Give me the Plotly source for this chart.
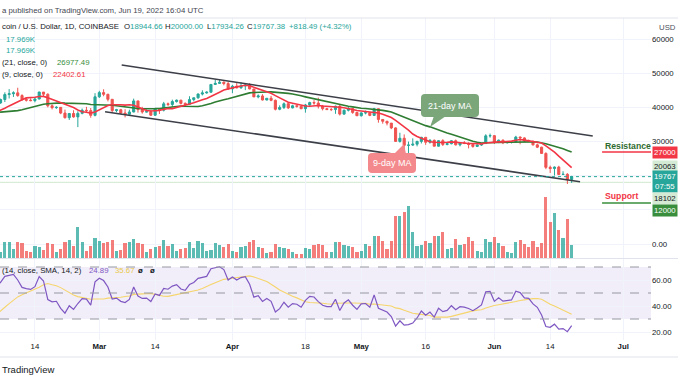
import pandas as pd
import plotly.graph_objects as go

W, H = 678, 381
FONT = "Liberation Sans, Arial, sans-serif"

# ---------------- data ----------------
# closes before the visible window (Jan 1 - Feb 4, 2022), only feed the indicators
warm_close = [47690, 47300, 46440, 45830, 43430, 43080, 41550, 41730, 41860, 41820,
              42740, 43920, 42590, 43080, 43080, 43100, 42220, 42370, 41680, 40690,
              36460, 35070, 36280, 36680, 36960, 36830, 37170, 37720, 38170, 37920,
              38480, 38740, 36950, 37150, 41570]

# daily candles Feb 5 - Jun 19, 2022
opens = [41570, 41400, 42400, 43850, 44100, 44350, 43550, 42400, 42200, 42070,
         42550, 44580, 43950, 40550, 40000, 40100, 38420, 37070, 38290, 37300,
         38330, 39250, 39140, 37750,
         43190, 44420, 43920, 42460, 39150, 39400, 38420, 38060, 38740, 41980,
         39440, 38730, 38810, 37790, 39670, 39280, 41140, 40950, 41800, 42200,
         41260, 41000, 42370, 42900, 44000, 44330, 44540, 46820, 47130, 47460, 47070,
         45530, 46300, 45820, 46400, 46620, 45500, 43170, 43440, 42250, 42760,
         42160, 39530, 40080, 41150, 39940, 40550, 40400, 39700, 40800, 41500,
         41370, 40480, 39710, 39450, 39450, 40430, 38110, 39240, 39740, 38600,
         37630, 38470, 38520, 37730, 39690, 36550, 36010, 35470, 34060, 30100,
         31020, 28940, 29030, 29280, 30100, 31300, 29860, 30430, 28700, 30310,
         29200, 29430, 30290, 29100, 29650, 29540, 29200, 28630, 29030, 29470, 31730,
         31800, 29800, 30460, 29700, 29860, 29910, 31370, 31130, 30200, 30110,
         29090, 28400, 26580, 22490, 22140, 22580, 20380, 20450, 18944.66]
highs = [41950, 42650, 44500, 45450, 44800, 45850, 43950, 43000, 42750, 42850,
         44700, 44580, 44200, 40970, 40450, 40150, 39450, 38450, 39250, 38950,
         39750, 40250, 39900, 44250,
         44950, 45400, 44100, 42550, 39650, 39650, 39550, 39400, 42650, 42050,
         40250, 39500, 39300, 39950, 39900, 41700, 41500, 42350, 42400, 42300,
         41550, 43350, 43000, 44200, 45100, 44800, 46950, 48200, 48100, 47700, 47600,
         46700, 47200, 47450, 46900, 47200, 45500, 43900, 43950, 42800, 43450,
         42400, 40700, 41550, 41500, 40850, 40700, 40600, 41100, 41750, 42200,
         42950, 40800, 39950, 39900, 40600, 40800, 39450, 40350, 39900, 38800,
         38650, 39150, 38650, 39950, 39800, 36650, 36150, 35500, 34250, 32650,
         32150, 30050, 31000, 30300, 31450, 31300, 30750, 30650, 30500, 30750,
         29600, 30450, 30650, 29800, 30200, 29850, 29350, 29250, 29550, 32200,
         32400, 31950, 30650, 30700, 29950, 30150, 31750, 31550, 31300, 30650,
         30350, 29450, 28550, 26900, 23000, 22750, 22950, 21350, 20800, 20000.00]
lows = [40950, 41150, 41650, 42700, 43150, 43200, 42000, 41800, 41900, 41580,
        42450, 43350, 40100, 39500, 39650, 38100, 36800, 36400, 37050, 34300,
        38050, 38600, 37050, 37450,
        42850, 43350, 41850, 38650, 38650, 38100, 37150, 37900, 38650, 38550,
        38250, 38650, 37600, 37600, 38150, 38900, 40500, 40200, 41500, 40950,
        40500, 40900, 41850, 42600, 43600, 44100, 44450, 46650, 46950, 46550, 45200,
        44250, 45650, 45550, 45150, 45400, 43100, 42750, 42150, 42150, 41900,
        39200, 39250, 39600, 39600, 39800, 40000, 39550, 38550, 40550, 40850,
        39750, 39200, 39300, 39000, 38200, 37700, 37900, 38900, 38200, 37600,
        37400, 38050, 37500, 37600, 35600, 35300, 34800, 33700, 30050, 29750,
        27800, 26600, 28750, 28650, 29500, 29100, 29450, 28700, 28650, 28750,
        28950, 29250, 28900, 28650, 29300, 28050, 28250, 28450, 28800, 29450,
        31200, 29350, 29600, 29300, 29500, 29500, 29900, 29250, 29900, 29950,
        28900, 28150, 26600, 21950, 20850, 20100, 20250, 20250, 17600, 17934.26]
closes = [41400, 42400, 43850, 44100, 44350, 43550, 42400, 42200, 42070, 42550,
          44580, 43950, 40550, 40000, 40100, 38420, 37070, 38290, 37300, 38330,
          39250, 39140, 37750, 43190,
          44420, 43920, 42460, 39150, 39400, 38420, 38060, 38740, 41980, 39440,
          38730, 38810, 37790, 39670, 39280, 41140, 40950, 41800, 42200, 41260,
          41000, 42370, 42900, 44000, 44330, 44540, 46820, 47130, 47460, 47070, 45530,
          46300, 45820, 46400, 46620, 45500, 43170, 43440, 42250, 42760, 42160,
          39530, 40080, 41150, 39940, 40550, 40400, 39700, 40800, 41500, 41370,
          40480, 39710, 39450, 39450, 40430, 38110, 39240, 39740, 38600, 37630,
          38470, 38520, 37730, 39690, 36550, 36010, 35470, 34060, 30100, 31020,
          28940, 29030, 29280, 30100, 31300, 29860, 30430, 28700, 30310, 29200,
          29430, 30290, 29100, 29650, 29540, 29200, 28630, 29030, 29470, 31730,
          31800, 29800, 30460, 29700, 29860, 29910, 31370, 31130, 30200, 30110, 29090,
          28400, 26580, 22490, 22140, 22580, 20380, 20450, 18950, 19767.38]
# volume, thousand BTC
volumes = [11.0, 7.9, 21.7, 21.7, 12.4, 21.7, 20.7, 9.7, 7.9, 16.1,
           14.8, 11.0, 20.3, 19.3, 7.9, 12.4, 22.5, 24.8, 17.0, 43.2,
           22.5, 10.1, 16.1, 27.2,
           23.9, 20.3, 21.7, 25.3, 10.1, 11.0, 20.7, 22.5, 26.2, 20.7,
           19.3, 7.9, 12.4, 15.6, 16.1, 24.8, 17.0, 19.3, 10.1, 12.4,
           13.4, 21.7, 13.4, 23.0, 20.7, 9.2, 11.5, 20.3, 17.9, 14.8, 19.3,
           10.1, 7.9, 14.8, 16.1, 22.5, 25.3, 14.8, 13.4, 6.9, 7.9,
           19.3, 14.8, 13.4, 12.4, 7.9, 5.5, 5.5, 13.4, 12.4, 17.9,
           19.3, 17.9, 7.9, 7.9, 21.7, 22.5, 17.9, 17.0, 14.8, 7.9,
           10.1, 19.3, 16.6, 29.9, 29.9, 23.5, 12.4, 23.9, 57.5, 57.5,
           63.1, 72.2, 36.3, 17.0, 17.9, 23.9, 20.7, 29.9, 29.9, 36.3,
           12.4, 13.4, 26.2, 18.4, 19.3, 28.6, 23.9, 9.2, 7.9, 26.2,
           22.5, 28.6, 20.7, 16.1, 7.9, 6.9, 21.7, 24.8, 19.3, 14.8, 23.9,
           14.8, 20.7, 83.8, 49.3, 62.1, 39.1, 27.2, 53.8, 17.969]

# drawings (date, price)
upper_trend = (["2022-03-06 05:00", "2022-06-23 22:00"], [52520, 31690])
lower_trend = (["2022-03-02 08:00", "2022-06-20 23:00"], [38820, 18280])
resistance = ("2022-06-26 02:00", 27000)
support = ("2022-06-26 02:00", 12000)
marked_levels = [20063, 18102]
last_price = 19767.38

date_ticks = ["2022-02-14", "2022-03-01", "2022-03-14", "2022-04-01", "2022-04-18",
              "2022-05-01", "2022-05-16", "2022-06-01", "2022-06-14", "2022-07-01"]
date_labels = ["14", "<b>Mar</b>", "14", "<b>Apr</b>", "18", "<b>May</b>", "16",
               "<b>Jun</b>", "14", "<b>Jul</b>"]
price_ticks = [0, 10000, 20000, 30000, 40000, 50000, 60000]
# 10000 / 20000 sit under the price-scale labels, as in the snapshot
price_labels = ["0.00", "", "", "30000", "40000", "50000", "60000"]
rsi_ticks = [20, 40, 60]
rsi_labels = ["20.00", "40.00", "60.00"]

# ---------------- indicators ----------------
dates = pd.date_range("2022-02-05", "2022-06-19", freq="D")
warm_dates = pd.date_range("2022-01-01", "2022-02-04", freq="D")
assert len(dates) == len(closes) == len(opens) == len(highs) == len(lows) == len(volumes)
all_dates = warm_dates.append(dates)
allc = pd.Series(list(warm_close) + list(closes), index=all_dates, dtype=float)
ma9 = allc.rolling(9).mean()
ma21 = allc.rolling(21).mean()
delta = allc.diff()
gain = delta.clip(lower=0)
loss = -delta.clip(upper=0)
ag = gain.ewm(alpha=1 / 14, adjust=False).mean()
al = loss.ewm(alpha=1 / 14, adjust=False).mean()
rsi = 100 - 100 / (1 + ag / al)
rsi_ma = rsi.rolling(14).mean()

UP, DN = "#26a69a", "#ef5350"
vol_colors = ["rgba(38,166,154,0.75)" if c >= o else "rgba(239,83,80,0.75)"
              for o, c in zip(opens, closes)]

# ---------------- layout geometry ----------------
XR = 651 / W
PRICE_DOM = [1 - 258 / H, 1 - 18 / H]
RSI_DOM = [1 - 340 / H, 1 - 259 / H]
X_RANGE = ["2022-02-05 20:53", "2022-07-07 11:30"]
P_RANGE = [-4108, 66315]
R_RANGE = [13.85, 76.15]
GRID = "#f0f3fa"


def px(x):
    return x / W


def py(y):
    return 1 - y / H


fig = go.Figure()
fig.add_trace(go.Candlestick(
    x=dates, open=opens, high=highs, low=lows, close=closes,
    increasing=dict(line=dict(color=UP, width=1), fillcolor=UP),
    decreasing=dict(line=dict(color=DN, width=1), fillcolor=DN),
    whiskerwidth=0, xaxis="x", yaxis="y", hoverinfo="skip"))
fig.add_trace(go.Scatter(x=all_dates, y=ma21, mode="lines",
                         line=dict(color="#2e7d32", width=1.6), xaxis="x", yaxis="y"))
fig.add_trace(go.Scatter(x=all_dates, y=ma9, mode="lines",
                         line=dict(color="#f23645", width=1.6), xaxis="x", yaxis="y"))
fig.add_trace(go.Bar(x=dates, y=volumes, marker=dict(color=vol_colors, line=dict(width=0)),
                     width=0.74 * 86400000, xaxis="x", yaxis="y2"))
fig.add_trace(go.Scatter(x=all_dates, y=rsi_ma, mode="lines",
                         line=dict(color="#f5d56c", width=1.1), xaxis="x2", yaxis="y3"))
fig.add_trace(go.Scatter(x=all_dates, y=rsi, mode="lines",
                         line=dict(color="#7e57c2", width=1.2), xaxis="x2", yaxis="y3"))

shapes = []
# trend channel
for dts, prs in (upper_trend, lower_trend):
    shapes.append(dict(type="line", xref="x", yref="y", x0=dts[0], y0=prs[0], x1=dts[1], y1=prs[1],
                       line=dict(color="#3c3f47", width=1.6)))
# marked levels and last price line
for lv in marked_levels:
    shapes.append(dict(type="line", xref="paper", yref="y", x0=0, x1=XR, y0=lv, y1=lv,
                       line=dict(color="#cfe8cf", width=1), layer="below"))
shapes.append(dict(type="line", xref="paper", yref="y", x0=0, x1=XR, y0=last_price, y1=last_price,
                   line=dict(color=UP, width=1, dash="dot")))
# resistance / support
shapes.append(dict(type="line", xref="x", yref="y", x0=resistance[0], x1=X_RANGE[1],
                   y0=resistance[1], y1=resistance[1], line=dict(color="#f23645", width=1.5)))
shapes.append(dict(type="line", xref="x", yref="y", x0=support[0], x1=X_RANGE[1],
                   y0=support[1], y1=support[1], line=dict(color="#388e3c", width=1.5)))
# RSI band
shapes.append(dict(type="rect", xref="paper", yref="y3", x0=0, x1=XR, y0=30, y1=70,
                   fillcolor="rgba(126,87,194,0.1)", line=dict(width=0), layer="below"))
for lv in (70, 50, 30):
    shapes.append(dict(type="line", xref="paper", yref="y3", x0=0, x1=XR, y0=lv, y1=lv,
                       line=dict(color="#9598a1", width=1, dash="dash")))
# borders
for yy in (18, 258.5, 357):
    shapes.append(dict(type="line", xref="paper", yref="paper", x0=0, x1=1, y0=py(yy), y1=py(yy),
                       line=dict(color="#e0e3eb", width=1)))


def rrect(x0, y0, x1, y1, r):
    pts = []
    pts.append(f"M{px(x0 + r)},{py(y0)}")
    pts.append(f"L{px(x1 - r)},{py(y0)}")
    pts.append(f"Q{px(x1)},{py(y0)} {px(x1)},{py(y0 + r)}")
    pts.append(f"L{px(x1)},{py(y1 - r)}")
    pts.append(f"Q{px(x1)},{py(y1)} {px(x1 - r)},{py(y1)}")
    pts.append(f"L{px(x0 + r)},{py(y1)}")
    pts.append(f"Q{px(x0)},{py(y1)} {px(x0)},{py(y1 - r)}")
    pts.append(f"L{px(x0)},{py(y0 + r)}")
    pts.append(f"Q{px(x0)},{py(y0)} {px(x0 + r)},{py(y0)} Z")
    return " ".join(pts)


def tri(p):
    return "M" + " L".join(f"{px(a)},{py(b)}" for a, b in p) + " Z"


C21 = "#7aa67a"
C9 = "#f3898c"
shapes.append(dict(type="path", xref="paper", yref="paper", path=rrect(421, 94, 479, 117, 4),
                   fillcolor=C21, line=dict(width=0)))
shapes.append(dict(type="path", xref="paper", yref="paper", path=tri([(434, 116), (446, 116), (430, 127)]),
                   fillcolor=C21, line=dict(width=0)))
shapes.append(dict(type="path", xref="paper", yref="paper", path=rrect(368, 153, 416, 173, 4),
                   fillcolor=C9, line=dict(width=0)))
shapes.append(dict(type="path", xref="paper", yref="paper", path=tri([(394, 154), (406, 154), (404, 144)]),
                   fillcolor=C9, line=dict(width=0)))

ann = []


def text(t, x, y, color="#131722", size=7.8, xanchor="left", bg=None, family=FONT, pad=1):
    d = dict(text=t, x=px(x), y=py(y), xref="paper", yref="paper", xanchor=xanchor,
             yanchor="middle", showarrow=False, font=dict(color=color, size=size, family=family))
    if bg:
        d.update(bgcolor=bg, borderpad=pad)
    ann.append(d)


TXT = "#131722"
text("a published on TradingView.com, Jun 19, 2022 16:04 UTC", 0, 10, color="#434651")
text("coin / U.S. Dollar, 1D, COINBASE", 0, 27)
for lab, val, x in (("O", "18944.66", 121.7), ("H", "20000.00", 163.3), ("L", "17934.26", 205),
                    ("C", "19767.38", 245)):
    text(f"{lab}<span style='color:{UP}'>{val}</span>", x, 27)
text("+818.49 (+4.32%)", 286.7, 27, color=UP)
text("17.969K", 3.5, 39, color=UP)
text("17.969K", 3.5, 51, color=UP)
text("(21, close, 0)", 0, 62.5)
text("26977.49", 54.5, 62.5, color="#388e3c")
text("(9, close, 0)", 0, 74.5)
text("22402.61", 50.5, 74.5, color="#f23645")
text("(14, close, SMA, 14, 2)", 0, 270)
text("24.89", 87, 270, color="#7e57c2")
text("35.67", 113, 270, color="#e9c84a")
text("<b>ø</b>", 136, 270)
text("<b>ø</b>", 148, 270)
text("TradingView", 0, 369, size=9.5, color="#131722")
text("USD", 657, 28, color="#50535e")

# callout texts
text("21-day MA", 450, 105.5, color="white", size=9, xanchor="center")
text("9-day MA", 392, 163, color="white", size=9, xanchor="center")
text("<b>Resistance</b>", 603, 146, color="#2e6b30", size=8.7)
text("<b>Support</b>", 603, 196, color="#f23645", size=8.7)

# price scale labels
text("27000", 652, 153, color="white", bg="#f23645", size=7.8)
text("20063", 652, 166, color=TXT, bg="#d4ead4", size=7.8)
text("19767<br>07:55", 652, 181, color="white", bg=UP, size=7.8)
text("18102", 652, 198, color=TXT, bg="#d4ead4", size=7.8)
text("12000", 652, 210, color="white", bg="#388e3c", size=7.8)

axfont = dict(family=FONT, size=7.8, color=TXT)
fig.update_layout(
    width=W, height=H, margin=dict(l=0, r=0, t=0, b=0, autoexpand=False),
    paper_bgcolor="white", plot_bgcolor="white", showlegend=False,
    bargap=0, shapes=shapes, annotations=ann,
    xaxis=dict(domain=[0, XR], range=X_RANGE, anchor="y", type="date",
               tickvals=date_ticks, ticktext=date_labels, showticklabels=False,
               showgrid=True, gridcolor=GRID, zeroline=False, showline=False,
               rangeslider=dict(visible=False), fixedrange=True, automargin=False),
    xaxis2=dict(domain=[0, XR], range=X_RANGE, anchor="y3", type="date", matches="x",
                tickvals=date_ticks, ticktext=date_labels, tickfont=axfont, ticks="",
                showgrid=True, gridcolor=GRID, zeroline=False, showline=False, automargin=False),
    yaxis=dict(domain=PRICE_DOM, range=P_RANGE, side="right", anchor="x",
               tickvals=price_ticks, ticktext=price_labels, tickfont=axfont, ticks="",
               showgrid=True, gridcolor=GRID, zeroline=False, showline=False, automargin=False),
    yaxis2=dict(domain=PRICE_DOM, range=[0, 331], overlaying="y", visible=False),
    yaxis3=dict(domain=RSI_DOM, range=R_RANGE, side="right", anchor="x2",
                tickvals=rsi_ticks, ticktext=rsi_labels, tickfont=axfont, ticks="",
                showgrid=True, gridcolor=GRID, zeroline=False, showline=False, automargin=False),
)

fig.write_html("out.html", config={"displayModeBar": False},
               post_script="document.body.style.margin='0';document.body.style.overflow='hidden';")
